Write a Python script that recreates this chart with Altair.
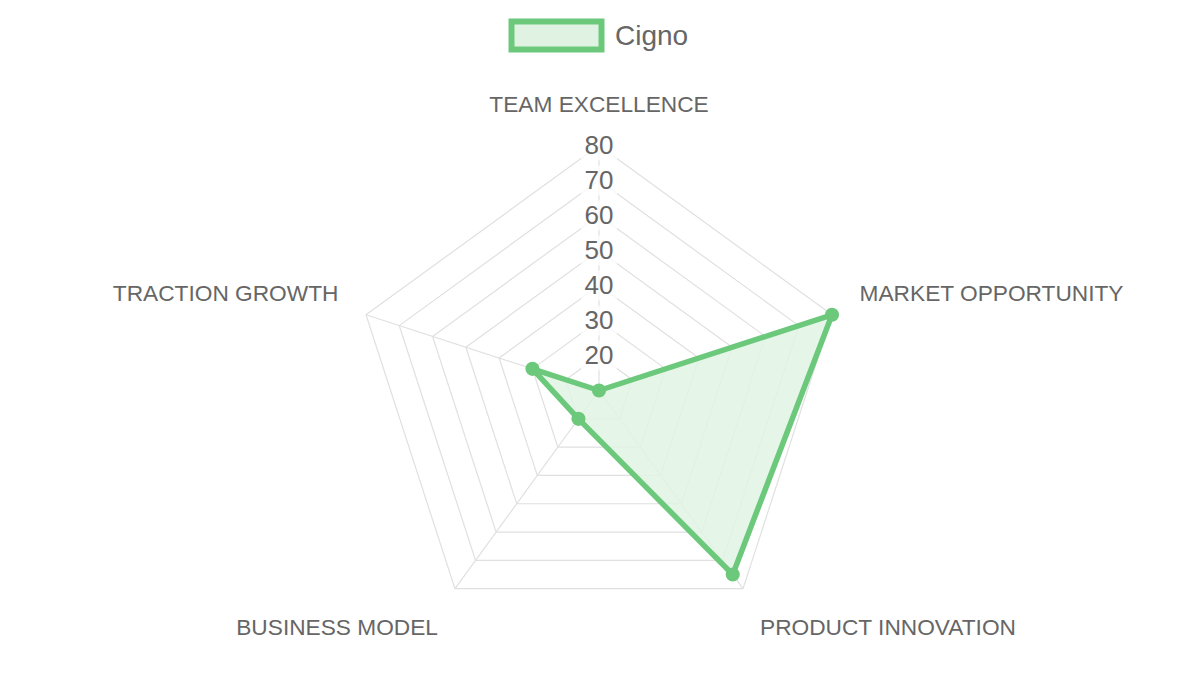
import altair as alt
import pandas as pd

# ---- data ----
categories = ["TEAM EXCELLENCE", "MARKET OPPORTUNITY", "PRODUCT INNOVATION",
              "BUSINESS MODEL", "TRACTION GROWTH"]
values = [10, 80, 75, 20, 30]
series_name = "Cigno"
tick_values = [10, 20, 30, 40, 50, 60, 70, 80]
scale_min = 10
scale_max = 80

# ---- layout / style ----
W, H = 1200, 675
CX, CY, R = 599, 390.5, 245
LABEL_PAD = 29
GREEN = "#6cc97c"
GREEN_FILL = "#e0f3e3"
GRID = "#e0e0e0"
TEXT = "#666666"
FONT = "Liberation Sans"

n = len(categories)


def rad_expr(value_field):
    return f"({value_field} - {scale_min}) / ({scale_max} - {scale_min}) * {R}"


def x_expr(r, idx="datum.idx"):
    return f"{CX} + ({r}) * sin(2 * PI * {idx} / {n})"


def y_expr(r, idx="datum.idx"):
    return f"{CY} - ({r}) * cos(2 * PI * {idx} / {n})"


xs = alt.Scale(domain=[0, W], nice=False, zero=False)
ys = alt.Scale(domain=[0, H], reverse=True, nice=False, zero=False)


def X(f="x"):
    return alt.X(f"{f}:Q", scale=xs, axis=None)


def Y(f="y"):
    return alt.Y(f"{f}:Q", scale=ys, axis=None)


# grid rings
ring_rows = []
for t in tick_values[1:]:
    for k in range(n + 1):
        ring_rows.append({"tick": t, "idx": k % n, "ord": k})
ring_df = pd.DataFrame(ring_rows)

rings = alt.Chart(ring_df).transform_calculate(
    r=rad_expr("datum.tick")
).transform_calculate(
    x=x_expr("datum.r"), y=y_expr("datum.r")
).mark_line(stroke=GRID, strokeWidth=1.2).encode(
    x=X(), y=Y(), detail="tick:N", order="ord:Q"
)

# spokes
spoke_df = pd.DataFrame({"idx": list(range(n))})
spokes = alt.Chart(spoke_df).transform_calculate(
    r=rad_expr(str(scale_max))
).transform_calculate(
    x=x_expr("0"), y=y_expr("0"),
    x2=x_expr("datum.r"), y2=y_expr("datum.r")
).mark_rule(stroke=GRID, strokeWidth=1.2).encode(
    x=X(), y=Y(), x2="x2:Q", y2="y2:Q"
)

# tick labels with backdrop
tick_df = pd.DataFrame({"tick": tick_values[1:]})
tick_base = alt.Chart(tick_df).transform_calculate(
    r=rad_expr("datum.tick")
).transform_calculate(
    y=y_expr("datum.r", "0"),
    x=x_expr("datum.r", "0"),
    bx=f"{CX} - 18", bx2=f"{CX} + 18",
    by=f"{CY} - datum.r - 15", by2=f"{CY} - datum.r + 15",
)
tick_bg = tick_base.mark_rect(fill="white", opacity=0.75).encode(
    x=X("bx"), x2="bx2:Q", y=Y("by"), y2="by2:Q"
)
tick_text = tick_base.mark_text(
    align="center", baseline="middle", fontSize=26, font=FONT, color=TEXT
).encode(x=X(), y=Y(), text="tick:N")

# data polygon
poly_df = pd.DataFrame({
    "idx": [k % n for k in range(n + 1)],
    "value": [values[k % n] for k in range(n + 1)],
    "ord": list(range(n + 1)),
    "series": series_name,
})
poly = alt.Chart(poly_df).transform_calculate(
    r=rad_expr("datum.value")
).transform_calculate(
    x=x_expr("datum.r"), y=y_expr("datum.r")
).mark_line(
    fill=GREEN_FILL, fillOpacity=0.85, stroke=GREEN, strokeWidth=5.5,
    strokeJoin="round"
).encode(x=X(), y=Y(), order="ord:Q")

pts_df = pd.DataFrame({"idx": list(range(n)), "value": values,
                       "category": categories})
pts = alt.Chart(pts_df).transform_calculate(
    r=rad_expr("datum.value")
).transform_calculate(
    x=x_expr("datum.r"), y=y_expr("datum.r")
).mark_circle(size=200, color=GREEN, opacity=1).encode(
    x=X(), y=Y(), tooltip=["category:N", "value:Q"]
)

# point labels
label_layers = []
for i, cat in enumerate(categories):
    deg = 360.0 * i / n
    if deg == 0 or deg == 180:
        align = "center"
    elif deg < 180:
        align = "left"
    else:
        align = "right"
    if deg == 90 or deg == 270:
        baseline, dy = "middle", 0
    elif deg < 90 or deg > 270:
        baseline, dy = "bottom", 0
    else:
        baseline, dy = "top", 5
    lab_df = pd.DataFrame({"idx": [i], "category": [cat]})
    label_layers.append(
        alt.Chart(lab_df).transform_calculate(
            x=x_expr(str(R + LABEL_PAD)), y=y_expr(str(R + LABEL_PAD))
        ).mark_text(
            align=align, baseline=baseline, fontSize=22.7, font=FONT, color=TEXT,
            dy=dy
        ).encode(x=X(), y=Y(), text="category:N")
    )

# legend (manual, Chart.js style)
leg_df = pd.DataFrame({"series": [series_name]})
leg_box = alt.Chart(leg_df).mark_rect(
    fill=GREEN_FILL, stroke=GREEN, strokeWidth=6
).encode(
    x=alt.value(511.5), x2=alt.value(601.5), y=alt.value(21.5), y2=alt.value(49.5)
)
leg_text = alt.Chart(leg_df).mark_text(
    align="left", baseline="alphabetic", fontSize=28, font=FONT, color=TEXT
).encode(x=alt.value(615), y=alt.value(45), text="series:N")

chart = alt.layer(
    rings, spokes, tick_bg, tick_text, poly, pts, *label_layers, leg_box, leg_text
).properties(
    width=W, height=H, autosize=alt.AutoSizeParams(type="none"),
    padding=0, background="white"
).configure_view(stroke=None)

chart.save("out.html", embed_options={"renderer": "svg", "actions": False})
